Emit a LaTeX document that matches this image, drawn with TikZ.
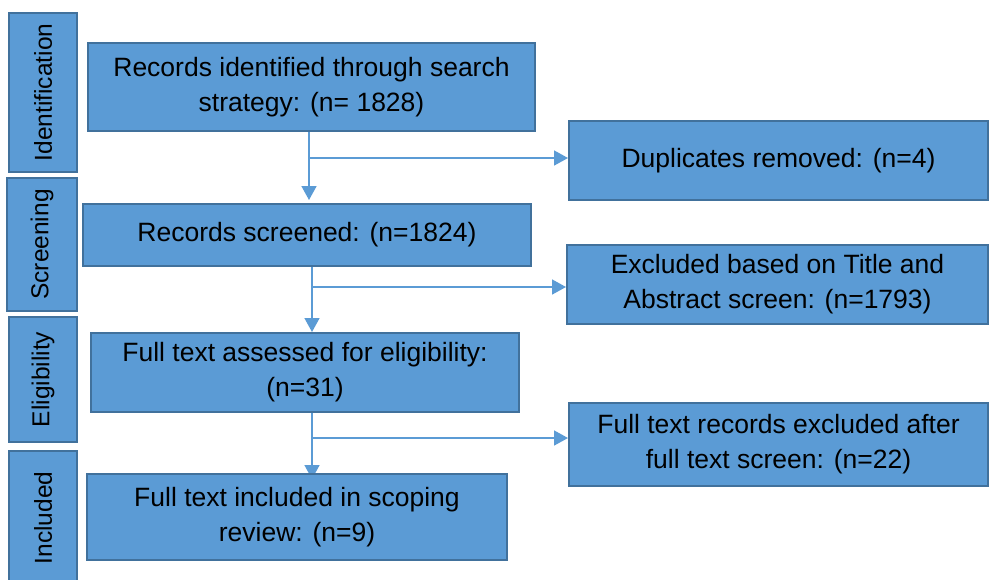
\documentclass[tikz,border=0pt]{standalone}
\usepackage{fontspec}
\setmainfont{Liberation Sans}
\definecolor{prismaFill}{HTML}{5B9BD5}
\definecolor{prismaLine}{HTML}{41719C}
\usetikzlibrary{
	arrows.meta,
	positioning,
	backgrounds
}
\tikzset{
	fase/.style={
		draw=prismaLine,
		line width=2pt,
		fill=prismaFill,
		rotate=90,
		align=center,
		inner sep=0pt,
		font=\fontsize{24.5}{28}\selectfont
	},
	caja/.style={
		draw=prismaLine,
		line width=2pt,
		fill=prismaFill,
		align=center,
		inner sep=0pt,
		font=\fontsize{26.5}{35}\selectfont
	},
	flecha/.style={
		-{Triangle[length=14pt,width=15pt]},
		line width=1.6pt,
		prismaFill
	}
}

\begin{document}
\begin{tikzpicture}[x=1pt,y=-1pt]
		\useasboundingbox (0,0) rectangle (992,579);
		% fases
		\node[fase, minimum width=159pt, minimum height=68pt] (ident) at (43,92.5) {Identification};
		\node[fase, minimum width=133pt, minimum height=70pt] (screen) at (42,244.5) {Screening};
		\node[fase, minimum width=125pt, minimum height=68pt] (elig) at (43,379.5) {Eligibility};
		\node[fase, minimum width=134pt, minimum height=68pt] (incl) at (43,518) {Included};
		% cajas
		\node[caja, minimum width=447pt, minimum height=88pt] (rec) at (311.5,87) {Records identified through search\\strategy: (n= 1828)};
		\node[caja, minimum width=419pt, minimum height=79pt] (dup) at (778.5,160.5) {Duplicates removed: (n=4)};
		\node[caja, minimum width=448pt, minimum height=62pt] (scr) at (307,235) {Records screened: (n=1824)};
		\node[caja, minimum width=421pt, minimum height=79pt] (exc1) at (777.5,284.5) {Excluded based on Title and\\Abstract screen: (n=1793)};
		\node[caja, minimum width=428pt, minimum height=79pt] (full) at (305,372.5) {Full text assessed for eligibility:\\(n=31)};
		\node[caja, minimum width=419pt, minimum height=83pt] (exc2) at (778.5,444.5) {Full text records excluded after\\full text screen: (n=22)};
		\node[caja, minimum width=420pt, minimum height=86pt] (inc) at (297,517) {Full text included in scoping\\review: (n=9)};
		% flechas
		\coordinate (r1) at (309,158);
		\coordinate (r2) at (312,287);
		\coordinate (r3) at (312,438);
		\draw[flecha, shorten >=3pt] (rec.south -| r1) -- (scr.north -| r1);
		\draw[flecha] (r1) -- (r1 -| dup.west);
		\draw[flecha] (scr.south -| r2) -- (full.north -| r2);
		\draw[flecha] (r2) -- (r2 -| exc1.west);
		\begin{scope}[on background layer]
			\draw[flecha, shorten >=-6pt] (full.south -| r3) -- (inc.north -| r3);
		\end{scope}
		\draw[flecha] (r3) -- (r3 -| exc2.west);
	\end{tikzpicture}
\end{document}
